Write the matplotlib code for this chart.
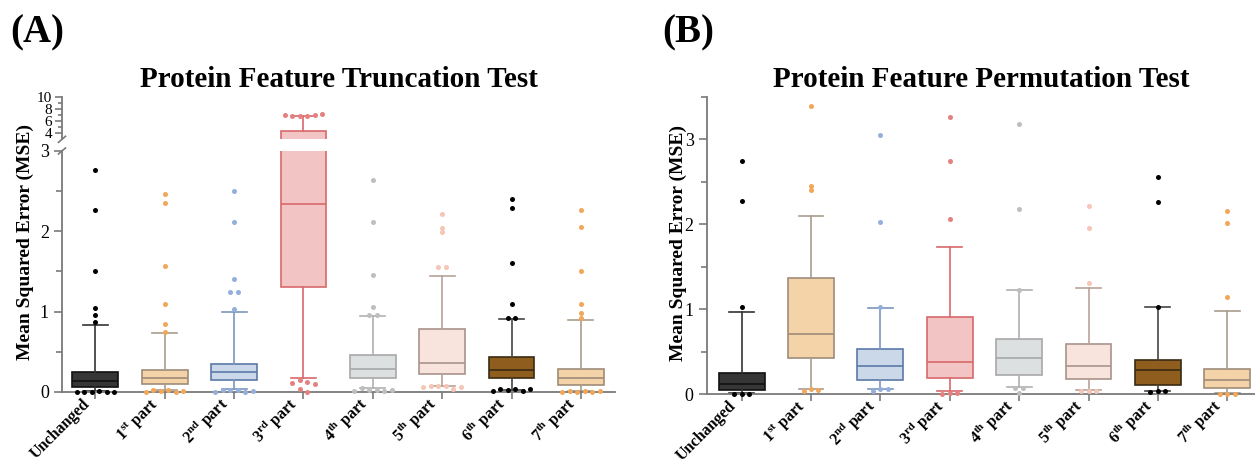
import matplotlib
matplotlib.use("Agg")
import matplotlib.pyplot as plt
from matplotlib.ticker import FixedLocator
from matplotlib.transforms import ScaledTranslation
import numpy as np

plt.rcParams["font.family"] = ["Liberation Serif", "DejaVu Serif"]
plt.rcParams["mathtext.fontset"] = "custom"
plt.rcParams["mathtext.rm"] = "Liberation Serif"
plt.rcParams["mathtext.bf"] = "Liberation Serif:bold"

# Categorias
CATEGORIAS = [
    "Unchanged",
    r"1$^{\mathbf{st}}$ part",
    r"2$^{\mathbf{nd}}$ part",
    r"3$^{\mathbf{rd}}$ part",
    r"4$^{\mathbf{th}}$ part",
    r"5$^{\mathbf{th}}$ part",
    r"6$^{\mathbf{th}}$ part",
    r"7$^{\mathbf{th}}$ part",
]

# (A) Truncation test - estatisticas
A_Q1 = [0.066, 0.095, 0.15, 1.31, 0.17, 0.23, 0.17, 0.09]
A_MED = [0.137, 0.18, 0.25, 2.34, 0.29, 0.36, 0.27, 0.17]
A_Q3 = [0.25, 0.27, 0.35, 4.43, 0.46, 0.79, 0.43, 0.29]
A_WLO = [0.01, 0.025, 0.04, 0.17, 0.05, 0.07, 0.03, 0.01]
A_WHI = [0.84, 0.73, 1.00, 6.77, 0.94, 1.44, 0.91, 0.90]
A_OUT = [
    [0.87, 0.96, 1.04, 1.51, 2.27, 2.76, 0.0, 0.005, 0.005, 0.01, 0.0, 0.005],
    [0.75, 0.85, 1.10, 1.57, 2.35, 2.47, 0.0, 0.02, 0.01, 0.02, 0.0, 0.01],
    [1.03, 1.24, 1.24, 1.41, 2.11, 2.50, 0.0, 0.03, 0.02, 0.02, 0.0, 0.01],
    [7.03, 6.82, 6.82, 6.87, 6.98, 7.09, 0.11, 0.15, 0.12, 0.10, 0.04, 0.0],
    [0.96, 0.96, 1.06, 1.46, 2.11, 2.64, 0.01, 0.05, 0.03, 0.03, 0.01, 0.02],
    [1.56, 1.56, 1.99, 2.04, 2.21, 0.065, 0.07, 0.07, 0.07, 0.04, 0.065],
    [0.92, 0.92, 1.09, 1.61, 2.29, 2.40, 0.015, 0.04, 0.02, 0.04, 0.015, 0.035],
    [0.92, 0.98, 1.09, 1.51, 2.05, 2.27, 0.005, 0.01, 0.005, 0.01, 0.0, 0.01],
]

# (B) Permutation test
B_Q1 = [0.047, 0.42, 0.17, 0.19, 0.22, 0.18, 0.11, 0.075]
B_MED = [0.12, 0.71, 0.33, 0.38, 0.42, 0.33, 0.28, 0.17]
B_Q3 = [0.25, 1.37, 0.53, 0.91, 0.65, 0.585, 0.40, 0.29]
B_WLO = [0.01, 0.055, 0.06, 0.03, 0.086, 0.05, 0.035, 0.01]
B_WHI = [0.97, 2.10, 1.01, 1.73, 1.23, 1.25, 1.02, 0.98]
B_OUT = [
    [1.02, 2.27, 2.74, 0.0, 0.0, 0.0],
    [2.40, 2.45, 3.39, 0.04, 0.055, 0.047],
    [1.02, 2.03, 3.05, 0.035, 0.06, 0.063],
    [2.06, 2.75, 3.27, 0.0, 0.01, 0.01],
    [1.23, 2.18, 3.18, 0.07, 0.07, 0.01],
    [1.31, 1.96, 2.21, 0.03, 0.04, 0.04],
    [1.02, 2.26, 2.56, 0.02, 0.03, 0.03],
    [1.14, 2.01, 2.16, 0.0, 0.005, 0.005],
]

# Cores por categoria
COR_CAIXA = ["#363636", "#F5D3A8", "#CBD8EA", "#F2C4C4", "#DCE0E0", "#F9E4DD", "#8F5E1F", "#F5D3A8"]
COR_BORDA = ["#111111", "#A08C78", "#5B79A8", "#D8686C", "#A8A8A8", "#A8948A", "#3A2A12", "#A08C78"]
COR_BIGODE = ["#333333", "#A89C8C", "#7C96BE", "#D8686C", "#B0B0B0", "#B8A29A", "#444444", "#A89C8C"]
COR_PONTO = ["#000000", "#F2A65A", "#94AFDC", "#E68080", "#BEBEBE", "#F5C6B6", "#000000", "#F2A65A"]
COR_EIXO = "#7A7A7A"


def espalhar(valores, tol, passo=0.108):
    """Espalha horizontalmente pontos com valores muito próximos (estilo Prism)."""
    xs, ys, grupo = [], [], []
    for v in list(valores) + [None]:
        if grupo and (v is None or abs(v - grupo[0]) >= tol):
            n = len(grupo)
            xs += list((np.arange(n) - (n - 1) / 2) * passo)
            ys += grupo
            grupo = []
        if v is not None:
            grupo.append(v)
    return np.array(xs), np.array(ys)


def desenhar_caixas(ax, q1, med, q3, wlo, whi, outs, ylim, tol=0.045):
    for i in range(len(q1)):
        st = [dict(med=med[i], q1=q1[i], q3=q3[i], whislo=wlo[i], whishi=whi[i], fliers=[])]
        ax.bxp(
            st, positions=[i], widths=0.66, capwidths=0.36, patch_artist=True,
            showfliers=False, manage_ticks=False,
            boxprops=dict(facecolor=COR_CAIXA[i], edgecolor=COR_BORDA[i], linewidth=1.2),
            medianprops=dict(color=COR_BORDA[i], linewidth=1.2),
            whiskerprops=dict(color=COR_BIGODE[i], linewidth=1.2),
            capprops=dict(color=COR_BIGODE[i], linewidth=1.2),
        )
        xs, ys = espalhar(outs[i], tol)
        m = (ys >= ylim[0]) & (ys <= ylim[1])
        ax.scatter(i + xs[m], ys[m], s=13, color=COR_PONTO[i], linewidths=0,
                   zorder=4, clip_on=False)


def estilo_eixo(ax):
    for lado in ["top", "right"]:
        ax.spines[lado].set_visible(False)
    for lado in ["left", "bottom"]:
        ax.spines[lado].set_color(COR_EIXO)
        ax.spines[lado].set_linewidth(1.3)
    ax.tick_params(which="both", color=COR_EIXO, width=1.2, labelsize=13)
    ax.tick_params(which="major", length=6)
    ax.tick_params(which="minor", length=4)
    ax.tick_params(axis="x", length=5, pad=1)


def rotulos_x(ax):
    ax.set_xticks(np.arange(len(CATEGORIAS)))
    ax.set_xticklabels(CATEGORIAS, rotation=45, ha="right", va="center",
                       rotation_mode="anchor", fontweight="bold", fontsize=11.5)
    desloc = ScaledTranslation(-8 / 100, -1 / 100, fig.dpi_scale_trans)
    for rot in ax.get_xticklabels():
        rot.set_transform(rot.get_transform() + desloc)


fig = plt.figure(figsize=(12.55, 4.61), dpi=100)

# ---- Painel A (eixo com quebra) ----
ax_a = fig.add_axes([0.0494, 0.1497, 0.4406, 0.5228])
ax_a_top = fig.add_axes([0.0494, 0.6978, 0.4406, 0.0924])

desenhar_caixas(ax_a, A_Q1, A_MED, A_Q3, A_WLO, A_WHI, A_OUT, (0, 3))
desenhar_caixas(ax_a_top, A_Q1, A_MED, A_Q3, A_WLO, A_WHI, A_OUT, (3, 10), tol=0.5)

for ax in (ax_a, ax_a_top):
    ax.set_xlim(-0.48, 7.49)
    estilo_eixo(ax)
ax_a.set_ylim(0, 3)
ax_a.yaxis.set_major_locator(FixedLocator([0, 1, 2, 3]))
ax_a.yaxis.set_minor_locator(FixedLocator([0.5, 1.5, 2.5]))
rotulos_x(ax_a)

ax_a_top.set_ylim(3, 10)
ax_a_top.spines["bottom"].set_visible(False)
ax_a_top.set_xticks([])
ax_a_top.yaxis.set_major_locator(FixedLocator([4, 6, 8, 10]))
ax_a_top.yaxis.set_minor_locator(FixedLocator([5, 7, 9]))
ax_a_top.tick_params(which="major", length=5, labelsize=11, pad=2)
ax_a_top.tick_params(which="minor", length=3)
ax_a_top.set_title("Protein Feature Truncation Test", fontsize=21, fontweight="bold", pad=7)

# Marcas de quebra no eixo y
for ax, y in ((ax_a, 1), (ax_a_top, 0)):
    trans = fig.dpi_scale_trans + ScaledTranslation(0, y, ax.transAxes)
    ax.plot([-0.035, 0.035], [-0.03, 0.03], transform=trans, color=COR_EIXO,
            linewidth=1.2, clip_on=False)

fig.text(25 / 1255, 1 - 242 / 461, "Mean Squared Error (MSE)", rotation=90,
         ha="center", va="center", fontsize=14, fontweight="bold")

# ---- Painel B ----
ax_b = fig.add_axes([0.5633, 0.1453, 0.4367, 0.6443])
desenhar_caixas(ax_b, B_Q1, B_MED, B_Q3, B_WLO, B_WHI, B_OUT, (0, 3.5))
ax_b.set_xlim(-0.5, 7.4)
ax_b.set_ylim(0, 3.5)
estilo_eixo(ax_b)
ax_b.yaxis.set_major_locator(FixedLocator([0, 1, 2, 3]))
ax_b.yaxis.set_minor_locator(FixedLocator([0.5, 1.5, 2.5, 3.5]))
rotulos_x(ax_b)
ax_b.set_title("Protein Feature Permutation Test", fontsize=21, fontweight="bold", pad=7)
fig.text(678 / 1255, 1 - 243 / 461, "Mean Squared Error (MSE)", rotation=90,
         ha="center", va="center", fontsize=14, fontweight="bold")

fig.text(10 / 1255, 1 - 14 / 461, "(A)", fontsize=28, fontweight="bold", va="top")
fig.text(662 / 1255, 1 - 14 / 461, "(B)", fontsize=28, fontweight="bold", va="top")

fig.savefig("out.png", dpi=100)
